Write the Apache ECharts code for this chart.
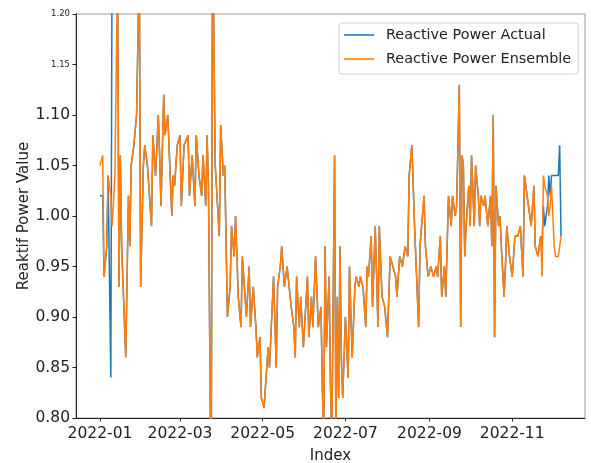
<!DOCTYPE html>
<html>
<head>
<meta charset="utf-8">
<script src="https://cdn.jsdelivr.net/npm/echarts@6/dist/echarts.min.js"></script>
<style>
  html, body { margin: 0; padding: 0; background: #fff; }
  #chart { width: 591px; height: 463px; }
</style>
</head>
<body>
<div id="chart"></div>
<script>
// Daily reactive power readings, 2022 (observed vs. ensemble model)
const dates = [
  // Jan
  '2022-01-01','2022-01-03','2022-01-04','2022-01-06','2022-01-07','2022-01-09','2022-01-10','2022-01-12','2022-01-14','2022-01-15',
  '2022-01-16','2022-01-17','2022-01-20','2022-01-22','2022-01-23','2022-01-24','2022-01-26','2022-01-28','2022-01-30','2022-01-31',
  // Feb
  '2022-02-02','2022-02-03','2022-02-05','2022-02-08','2022-02-09','2022-02-11','2022-02-13','2022-02-14','2022-02-15','2022-02-17',
  '2022-02-18','2022-02-20','2022-02-23','2022-02-24','2022-02-25','2022-02-27',
  // Mar
  '2022-03-01','2022-03-02','2022-03-04','2022-03-07','2022-03-08','2022-03-10','2022-03-12','2022-03-13','2022-03-15','2022-03-17',
  '2022-03-18','2022-03-20','2022-03-21','2022-03-22','2022-03-24','2022-03-25','2022-03-27','2022-03-30','2022-03-31',
  // Apr
  '2022-04-02','2022-04-03','2022-04-05','2022-04-07','2022-04-08','2022-04-10','2022-04-11','2022-04-13','2022-04-15','2022-04-16',
  '2022-04-19','2022-04-21','2022-04-22','2022-04-24','2022-04-26','2022-04-27','2022-04-29','2022-04-30',
  // May
  '2022-05-02','2022-05-05','2022-05-06','2022-05-07','2022-05-09','2022-05-11','2022-05-12','2022-05-14','2022-05-15','2022-05-17',
  '2022-05-19','2022-05-22','2022-05-24','2022-05-25','2022-05-26','2022-05-28','2022-05-29','2022-05-31',
  // Jun
  '2022-06-03','2022-06-04','2022-06-06','2022-06-07','2022-06-09','2022-06-11','2022-06-13','2022-06-14','2022-06-15','2022-06-16',
  '2022-06-17','2022-06-19','2022-06-20','2022-06-21','2022-06-23','2022-06-24','2022-06-25','2022-06-26','2022-06-27','2022-06-28',
  '2022-06-29',
  // Jul
  '2022-07-01','2022-07-03','2022-07-04','2022-07-06','2022-07-08','2022-07-09','2022-07-11','2022-07-12','2022-07-14','2022-07-16',
  '2022-07-17','2022-07-18','2022-07-20','2022-07-21','2022-07-23','2022-07-25','2022-07-26','2022-07-28','2022-07-30',
  // Aug
  '2022-08-01','2022-08-03','2022-08-05','2022-08-07','2022-08-08','2022-08-10','2022-08-12','2022-08-14','2022-08-16','2022-08-17',
  '2022-08-19','2022-08-21','2022-08-24','2022-08-25','2022-08-28','2022-08-29','2022-08-31',
  // Sep
  '2022-09-02','2022-09-04','2022-09-06','2022-09-07','2022-09-09','2022-09-10','2022-09-12','2022-09-13','2022-09-15','2022-09-17',
  '2022-09-18','2022-09-20','2022-09-21','2022-09-23','2022-09-24','2022-09-25','2022-09-26','2022-09-27','2022-09-28','2022-09-30',
  // Oct
  '2022-10-01','2022-10-02','2022-10-04','2022-10-05','2022-10-07','2022-10-08','2022-10-09','2022-10-11','2022-10-12','2022-10-14',
  '2022-10-16','2022-10-17','2022-10-18','2022-10-19','2022-10-20','2022-10-22','2022-10-23','2022-10-24','2022-10-26','2022-10-27',
  '2022-10-28','2022-10-30','2022-10-31',
  // Nov
  '2022-11-01','2022-11-03','2022-11-05','2022-11-07','2022-11-09','2022-11-10','2022-11-12','2022-11-13','2022-11-15','2022-11-17',
  '2022-11-18','2022-11-20','2022-11-22','2022-11-23','2022-11-24','2022-11-25','2022-11-27','2022-11-28','2022-11-29','2022-11-30',
  // Dec
  '2022-12-02','2022-12-03','2022-12-05','2022-12-06','2022-12-07'
];

const actual = [
  1.02,1.02,0.94,0.97,1.04,0.84,1.30,1.28,1.25,0.93, 1.06,0.97,0.86,1.02,0.97,1.05,1.07,1.10,1.25,0.93,
  1.05,1.07,1.05,0.99,1.08,1.04,1.10,1.06,1.01,1.12, 1.08,1.10,1.00,1.04,1.03,1.07,
  1.08,1.01,1.07,1.08,1.02,1.06,1.01,1.08,1.04,1.02, 1.06,1.01,1.08,1.03,0.70,1.30,1.05,0.98,1.09,
  1.04,1.05,0.90,0.93,0.99,0.96,1.00,0.92,0.89,0.96, 0.90,0.95,0.89,0.93,0.89,0.86,0.88,0.82,
  0.81,0.87,0.85,0.88,0.94,0.85,0.93,0.95,0.97,0.93, 0.95,0.91,0.89,0.86,0.94,0.89,0.92,0.87,
  0.94,0.88,0.92,0.89,0.96,0.89,0.91,0.83,0.78,0.97, 0.87,0.94,0.83,0.78,1.06,0.78,0.92,0.82,0.97,0.86, 0.82,
  0.90,0.84,0.95,0.86,0.93,0.94,0.93,0.94,0.93,0.89, 0.95,0.94,0.98,0.91,0.99,0.89,0.99,0.92,0.91,
  0.88,0.96,0.95,0.94,0.92,0.96,0.95,0.97,0.96,1.04, 1.07,0.99,0.89,0.97,1.02,0.97,0.94,
  0.95,0.94,0.95,0.94,0.98,0.92,0.95,0.92,1.02,0.99, 1.02,1.00,1.01,1.13,0.89,1.06,1.05,0.96,0.99,1.03,
  0.99,1.06,0.99,1.05,1.02,0.99,1.02,1.01,1.02,0.99, 1.02,0.97,1.10,0.88,1.03,0.99,1.00,0.97,0.92,0.95, 0.99,0.96,0.95,
  0.94,0.98,0.98,0.99,0.94,1.04,1.02,1.02,0.99,1.03, 0.97,0.96,0.98,0.97,1.01,0.99,1.01,1.04,1.02,1.04,
  1.04,1.04,1.04,1.07,0.98
];

const ensemble = [
  1.05,1.06,0.94,0.97,1.04,1.02,0.99,1.04,1.25,0.93, 1.06,0.97,0.86,1.02,0.97,1.05,1.07,1.10,1.25,0.93,
  1.05,1.07,1.05,0.99,1.08,1.04,1.10,1.06,1.01,1.12, 1.08,1.10,1.00,1.04,1.03,1.07,
  1.08,1.01,1.07,1.08,1.02,1.06,1.01,1.08,1.04,1.02, 1.06,1.01,1.08,1.03,0.70,1.30,1.05,0.98,1.09,
  1.04,1.05,0.90,0.93,0.99,0.96,1.00,0.92,0.89,0.96, 0.90,0.95,0.89,0.93,0.89,0.86,0.88,0.82,
  0.81,0.87,0.85,0.88,0.94,0.85,0.93,0.95,0.97,0.93, 0.95,0.91,0.89,0.86,0.94,0.89,0.92,0.87,
  0.94,0.88,0.92,0.89,0.96,0.89,0.91,0.83,0.78,0.97, 0.87,0.94,0.83,0.78,1.06,0.78,0.92,0.82,0.97,0.86, 0.82,
  0.90,0.84,0.95,0.86,0.93,0.94,0.93,0.94,0.93,0.89, 0.95,0.94,0.98,0.91,0.99,0.89,0.99,0.92,0.91,
  0.88,0.96,0.95,0.94,0.92,0.96,0.95,0.97,0.96,1.04, 1.07,0.99,0.89,0.97,1.02,0.97,0.94,
  0.95,0.94,0.95,0.94,0.98,0.92,0.95,0.92,1.02,0.99, 1.02,1.00,1.01,1.13,0.89,1.06,1.05,0.96,0.99,1.03,
  0.99,1.06,0.99,1.05,1.02,0.99,1.02,1.01,1.02,0.99, 1.02,0.97,1.10,0.88,1.03,0.99,1.00,0.97,0.92,0.95, 0.99,0.96,0.95,
  0.94,0.98,0.98,0.99,0.94,1.04,1.02,1.02,0.99,1.03, 0.97,0.96,0.98,0.94,1.04,1.03,1.02,1.00,1.01,1.03,
  0.97,0.96,0.96,0.97,0.98
];

const seriesNames = ['Reactive Power Actual', 'Reactive Power Ensemble'];
const seriesColors = ['#1f77b4', '#ff7f0e'];
const xTickLabels = ['2022-01', '2022-03', '2022-05', '2022-07', '2022-09', '2022-11'];
const yTickLabels = ['0.80', '0.85', '0.90', '0.95', '1.00', '1.05', '1.10', '1.15', '1.20'];
const yTickLabelsSmall = ['1.15', '1.20'];

const FONT = 'DejaVu Sans';

function parseDate(s) {
  const p = s.split('-').map(Number);
  return Date.UTC(p[0], p[1] - 1, p[2] || 1);
}

const xs = dates.map(parseDate);
const xTicks = xTickLabels.map(parseDate);
// 5% padding on each side of the data range
const span = xs[xs.length - 1] - xs[0];
const xMin = xs[0] - span * 0.052;
const xMax = xs[xs.length - 1] + span * 0.052;

function tickText(v) {
  let best = 0;
  xTicks.forEach((t, i) => { if (Math.abs(t - v) < Math.abs(xTicks[best] - v)) best = i; });
  return xTickLabels[best];
}

const chart = echarts.init(document.getElementById('chart'), null, { renderer: 'canvas' });

chart.setOption({
  animation: false,
  backgroundColor: '#ffffff',
  textStyle: { fontFamily: FONT },
  grid: {
    left: 76, right: 6, top: 14, bottom: 45,
    containLabel: false, outerBoundsMode: 'none',
    show: true, borderColor: '#9a9a9a', borderWidth: 1, backgroundColor: 'transparent'
  },
  legend: {
    left: 339, top: 23,
    orient: 'vertical',
    data: seriesNames.map(n => ({ name: n, icon: 'rect' })),
    itemWidth: 30, itemHeight: 1.6, itemGap: 8,
    padding: [4, 7, 7, 5],
    backgroundColor: '#ffffff',
    borderColor: '#d0d0d0', borderWidth: 1, borderRadius: 3,
    textStyle: { fontFamily: FONT, fontSize: 14.4, color: '#222', lineHeight: 16, padding: [0, 0, 0, 7] }
  },
  xAxis: {
    type: 'value',
    min: xMin, max: xMax,
    name: 'Index', nameLocation: 'middle', nameGap: 31, nameMoveOverlap: false,
    nameTextStyle: { fontFamily: FONT, fontSize: 15, color: '#222' },
    axisLine: { show: true, lineStyle: { color: '#222', width: 1 } },
    axisTick: { show: true, length: 3.5, lineStyle: { color: '#222' }, customValues: xTicks },
    axisLabel: {
      customValues: xTicks,
      margin: 8,
      fontFamily: FONT, fontSize: 15.5, color: '#222',
      formatter: v => tickText(v)
    },
    splitLine: { show: false }
  },
  yAxis: {
    type: 'value',
    min: 0.8, max: 1.2, interval: 0.05,
    name: 'Reaktif Power Value', nameLocation: 'middle', nameGap: 44, nameMoveOverlap: false,
    nameTextStyle: { fontFamily: FONT, fontSize: 15, color: '#222' },
    axisLine: { show: true, lineStyle: { color: '#222', width: 1 } },
    axisTick: { show: true, length: 3.5, lineStyle: { color: '#222' } },
    axisLabel: {
      margin: 6,
      fontFamily: FONT, color: '#222',
      formatter: v => {
        const s = yTickLabels.find(t => Math.abs(parseFloat(t) - v) < 1e-6) || v.toFixed(2);
        return yTickLabelsSmall.includes(s) ? '{s|' + s + '}' : '{b|' + s + '}';
      },
      rich: {
        s: { fontFamily: FONT, fontSize: 8.5, color: '#222' },
        b: { fontFamily: FONT, fontSize: 15.5, color: '#222' }
      }
    },
    splitLine: { show: false }
  },
  series: [
    {
      name: seriesNames[0], type: 'line', showSymbol: false, clip: true,
      data: xs.map((x, i) => [x, actual[i]]),
      itemStyle: { color: seriesColors[0] },
      lineStyle: { color: seriesColors[0], width: 1.5 }
    },
    {
      name: seriesNames[1], type: 'line', showSymbol: false, clip: true,
      data: xs.map((x, i) => [x, ensemble[i]]),
      itemStyle: { color: seriesColors[1] },
      lineStyle: { color: seriesColors[1], width: 1.5 }
    }
  ]
});
</script>
</body>
</html>
